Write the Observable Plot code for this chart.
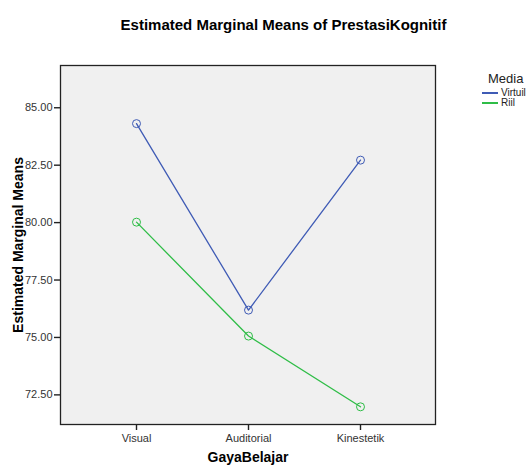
<!DOCTYPE html>
<html>
<head>
<meta charset="utf-8">
<script src="https://cdn.jsdelivr.net/npm/d3@7"></script>
<script src="https://cdn.jsdelivr.net/npm/@observablehq/plot@0.6"></script>
<style>
  html, body { margin: 0; padding: 0; background: #fff; }
  #wrap { position: relative; width: 529px; height: 470px; font-family: "Liberation Sans", Arial, sans-serif; }
  #title { position: absolute; left: 0; width: 567px; top: 16px; text-align: center; font-weight: bold; font-size: 15px; color: #000; white-space: nowrap; }
  #legend { position: absolute; left: 482px; top: 71px; color: #222; }
  #legend .head { font-size: 13px; line-height: 15px; height: 15px; margin-left: 6px; margin-bottom: 2px; }
  #legend .row { display: flex; align-items: center; height: 10px; font-size: 10px; line-height: 10px; }
  #legend .sw { display: inline-block; width: 16px; height: 2px; margin-right: 3px; }
  svg { position: absolute; left: 0; top: 0; }
</style>
</head>
<body>
<div id="wrap">
  <div id="title">Estimated Marginal Means of PrestasiKognitif</div>
  <div id="legend"></div>
</div>
<script>
const categories = ["Visual", "Auditorial", "Kinestetik"];
const seriesNames = ["Virtuil", "Riil"];
const virtuil = [84.31, 76.19, 82.72];
const riil = [80.02, 75.06, 71.98];
const yTicks = [72.5, 75, 77.5, 80, 82.5, 85];
const colors = ["#3f5bb5", "#2fbd47"];

const data = [];
categories.forEach((c, i) => {
  data.push({style: c, media: seriesNames[0], value: virtuil[i]});
  data.push({style: c, media: seriesNames[1], value: riil[i]});
});

const chart = Plot.plot({
  width: 529,
  height: 470,
  marginTop: 65,
  marginLeft: 60,
  marginRight: 94,
  marginBottom: 46,
  style: {fontFamily: "Liberation Sans, Arial, sans-serif", fontSize: "11px", color: "#333", background: "transparent"},
  x: {type: "point", domain: categories, padding: 0.661},
  y: {domain: [71.21, 86.84]},
  color: {domain: seriesNames, range: colors},
  marks: [
    Plot.frame({fill: "#f0f0f0", stroke: null}),
    Plot.axisY({ticks: yTicks, tickFormat: d3.format(".2f"), tickSize: 6, tickPadding: 2, label: null, stroke: "#222", strokeWidth: 1.4, fill: "#333"}),
    Plot.axisX({tickSize: 6, tickPadding: 4, label: null, stroke: "#222", strokeWidth: 1.4, fill: "#333"}),
    Plot.line(data, {x: "style", y: "value", z: "media", stroke: "media", strokeWidth: 1.3}),
    Plot.dot(data, {x: "style", y: "value", stroke: "media", r: 4, fill: "none", strokeWidth: 1}),
    Plot.frame({stroke: "#222", strokeWidth: 1.3}),
    Plot.text(["Estimated Marginal Means"], {frameAnchor: "left", dx: -42, rotate: -90, textAnchor: "middle", text: d => d, fontWeight: "bold", fontSize: 14, fill: "#000"}),
    Plot.text(["GayaBelajar"], {frameAnchor: "bottom", dy: 37, textAnchor: "middle", text: d => d, fontWeight: "bold", fontSize: 14, fill: "#000"})
  ]
});
document.getElementById("wrap").appendChild(chart);

const legend = document.getElementById("legend");
const head = document.createElement("div");
head.className = "head";
head.textContent = "Media";
legend.appendChild(head);
seriesNames.forEach((name, i) => {
  const row = document.createElement("div");
  row.className = "row";
  const sw = document.createElement("span");
  sw.className = "sw";
  sw.style.backgroundColor = colors[i];
  const lab = document.createElement("span");
  lab.textContent = name;
  row.appendChild(sw);
  row.appendChild(lab);
  legend.appendChild(row);
});
</script>
</body>
</html>
